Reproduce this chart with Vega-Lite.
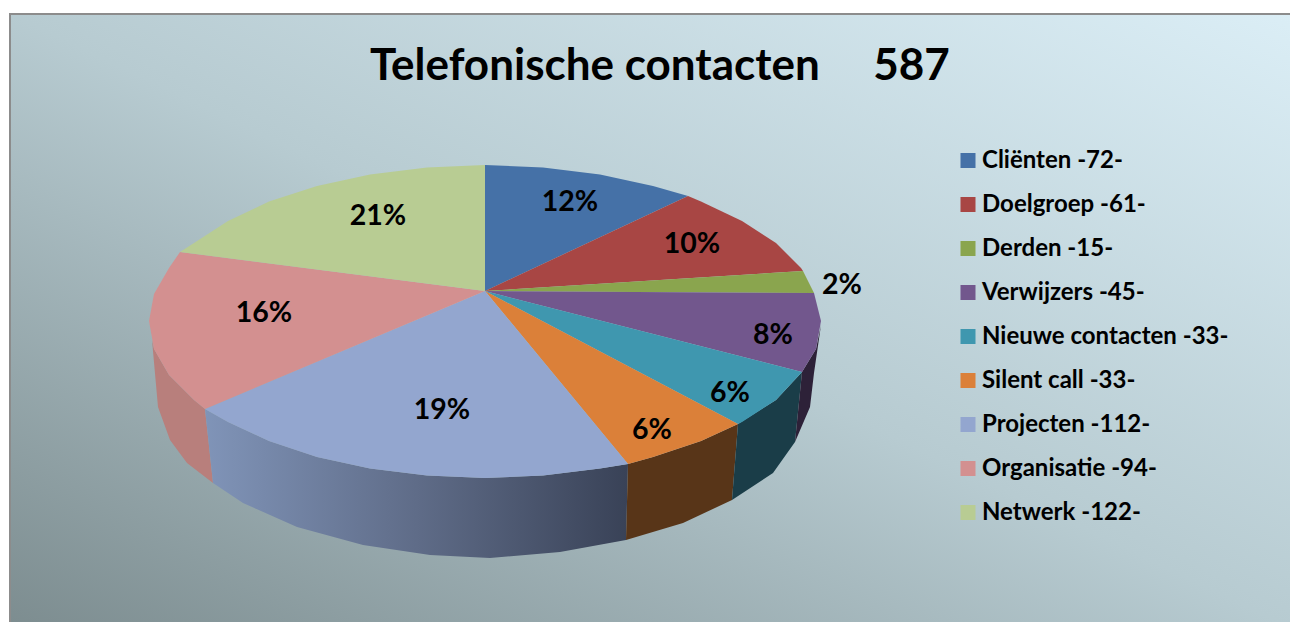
{"$schema":"https://vega.github.io/schema/vega-lite/v6.json","width":1290,"height":622,"padding":0,"autosize":{"type":"none"},"background":"white","view":{"stroke":null},
"title":{"text":"Telefonische contacten\u00a0\u00a0\u00a0\u00a0\u00a0587","font":"Lato","fontWeight":"bold","fontSize":44,"color":"#000000","anchor":"start","frame":"group","dx":370,"offset":-89},
"datasets":{
"achtergrond":[{"x":10,"x2":1300,"y":14,"y2":632}],
"wanden":[
{"s":"Organisatie","i":1,"x":152,"y":340},{"s":"Organisatie","i":2,"x":154,"y":349},{"s":"Organisatie","i":3,"x":169,"y":375},{"s":"Organisatie","i":4,"x":194,"y":400},{"s":"Organisatie","i":5,"x":205,"y":409},{"s":"Organisatie","i":6,"x":213,"y":483},{"s":"Organisatie","i":7,"x":187,"y":463},{"s":"Organisatie","i":8,"x":170,"y":440},{"s":"Organisatie","i":9,"x":158,"y":407},
{"s":"Projecten","i":1,"x":205,"y":409},{"s":"Projecten","i":2,"x":228,"y":422},{"s":"Projecten","i":3,"x":269,"y":441},{"s":"Projecten","i":4,"x":317,"y":457},{"s":"Projecten","i":5,"x":370,"y":468.6},{"s":"Projecten","i":6,"x":427,"y":475.6},{"s":"Projecten","i":7,"x":485,"y":478},{"s":"Projecten","i":8,"x":543,"y":475.6},{"s":"Projecten","i":9,"x":600,"y":468.6},{"s":"Projecten","i":10,"x":628,"y":464},{"s":"Projecten","i":11,"x":626,"y":540},{"s":"Projecten","i":12,"x":560,"y":552},{"s":"Projecten","i":13,"x":490,"y":558},{"s":"Projecten","i":14,"x":430,"y":555},{"s":"Projecten","i":15,"x":363,"y":545},{"s":"Projecten","i":16,"x":297,"y":527},{"s":"Projecten","i":17,"x":243,"y":503},{"s":"Projecten","i":18,"x":213,"y":483},
{"s":"Silent call","i":1,"x":628,"y":464},{"s":"Silent call","i":2,"x":653,"y":457},{"s":"Silent call","i":3,"x":701,"y":441},{"s":"Silent call","i":4,"x":738,"y":424},{"s":"Silent call","i":5,"x":732,"y":500},{"s":"Silent call","i":6,"x":683,"y":523},{"s":"Silent call","i":7,"x":626,"y":540},
{"s":"Nieuwe contacten","i":1,"x":738,"y":424},{"s":"Nieuwe contacten","i":2,"x":776,"y":400},{"s":"Nieuwe contacten","i":3,"x":802,"y":372},{"s":"Nieuwe contacten","i":4,"x":795,"y":442},{"s":"Nieuwe contacten","i":5,"x":773,"y":473},{"s":"Nieuwe contacten","i":6,"x":732,"y":500},
{"s":"Verwijzers","i":1,"x":802,"y":372},{"s":"Verwijzers","i":2,"x":816,"y":349},{"s":"Verwijzers","i":3,"x":821,"y":325},{"s":"Verwijzers","i":4,"x":814,"y":373},{"s":"Verwijzers","i":5,"x":810,"y":407},{"s":"Verwijzers","i":6,"x":795,"y":442}
],
"taart":[
{"categorie":"Cliënten -72-","i":0,"x":485,"y":291},{"categorie":"Cliënten -72-","i":1,"x":485,"y":165},{"categorie":"Cliënten -72-","i":2,"x":543,"y":167.4},{"categorie":"Cliënten -72-","i":3,"x":600,"y":174.4},{"categorie":"Cliënten -72-","i":4,"x":653,"y":186},{"categorie":"Cliënten -72-","i":5,"x":688,"y":196},
{"categorie":"Doelgroep -61-","i":0,"x":485,"y":291},{"categorie":"Doelgroep -61-","i":1,"x":688,"y":196},{"categorie":"Doelgroep -61-","i":2,"x":701,"y":201.6},{"categorie":"Doelgroep -61-","i":3,"x":742,"y":221},{"categorie":"Doelgroep -61-","i":4,"x":776,"y":243},{"categorie":"Doelgroep -61-","i":5,"x":801,"y":268},{"categorie":"Doelgroep -61-","i":6,"x":803,"y":271},
{"categorie":"Derden -15-","i":0,"x":485,"y":291},{"categorie":"Derden -15-","i":1,"x":803,"y":271},{"categorie":"Derden -15-","i":2,"x":814,"y":293},
{"categorie":"Verwijzers -45-","i":0,"x":485,"y":291},{"categorie":"Verwijzers -45-","i":1,"x":814,"y":293},{"categorie":"Verwijzers -45-","i":2,"x":821,"y":321},{"categorie":"Verwijzers -45-","i":3,"x":816,"y":349},{"categorie":"Verwijzers -45-","i":4,"x":802,"y":372},
{"categorie":"Nieuwe contacten -33-","i":0,"x":485,"y":291},{"categorie":"Nieuwe contacten -33-","i":1,"x":802,"y":372},{"categorie":"Nieuwe contacten -33-","i":2,"x":776,"y":400},{"categorie":"Nieuwe contacten -33-","i":3,"x":742,"y":422},{"categorie":"Nieuwe contacten -33-","i":4,"x":738,"y":424},
{"categorie":"Silent call -33-","i":0,"x":485,"y":291},{"categorie":"Silent call -33-","i":1,"x":738,"y":424},{"categorie":"Silent call -33-","i":2,"x":701,"y":441},{"categorie":"Silent call -33-","i":3,"x":653,"y":457},{"categorie":"Silent call -33-","i":4,"x":628,"y":464},
{"categorie":"Projecten -112-","i":0,"x":485,"y":291},{"categorie":"Projecten -112-","i":1,"x":628,"y":464},{"categorie":"Projecten -112-","i":2,"x":600,"y":468.6},{"categorie":"Projecten -112-","i":3,"x":543,"y":475.6},{"categorie":"Projecten -112-","i":4,"x":485,"y":478},{"categorie":"Projecten -112-","i":5,"x":427,"y":475.6},{"categorie":"Projecten -112-","i":6,"x":370,"y":468.6},{"categorie":"Projecten -112-","i":7,"x":317,"y":457},{"categorie":"Projecten -112-","i":8,"x":269,"y":441},{"categorie":"Projecten -112-","i":9,"x":228,"y":422},{"categorie":"Projecten -112-","i":10,"x":205,"y":409},
{"categorie":"Organisatie -94-","i":0,"x":485,"y":291},{"categorie":"Organisatie -94-","i":1,"x":205,"y":409},{"categorie":"Organisatie -94-","i":2,"x":194,"y":400},{"categorie":"Organisatie -94-","i":3,"x":169,"y":375},{"categorie":"Organisatie -94-","i":4,"x":154,"y":349},{"categorie":"Organisatie -94-","i":5,"x":149,"y":321},{"categorie":"Organisatie -94-","i":6,"x":154,"y":294},{"categorie":"Organisatie -94-","i":7,"x":169,"y":268},{"categorie":"Organisatie -94-","i":8,"x":180,"y":252},
{"categorie":"Netwerk -122-","i":0,"x":485,"y":291},{"categorie":"Netwerk -122-","i":1,"x":180,"y":252},{"categorie":"Netwerk -122-","i":2,"x":194,"y":243},{"categorie":"Netwerk -122-","i":3,"x":228,"y":221},{"categorie":"Netwerk -122-","i":4,"x":269,"y":201.6},{"categorie":"Netwerk -122-","i":5,"x":317,"y":186},{"categorie":"Netwerk -122-","i":6,"x":370,"y":174.4},{"categorie":"Netwerk -122-","i":7,"x":427,"y":167.4},{"categorie":"Netwerk -122-","i":8,"x":485,"y":165}
],
"labels":[
{"t":"12%","x":570,"y":202},{"t":"10%","x":692,"y":244},{"t":"2%","x":842,"y":285},{"t":"8%","x":773,"y":335},{"t":"6%","x":730,"y":393},{"t":"6%","x":652,"y":430},{"t":"19%","x":442,"y":410},{"t":"16%","x":264,"y":313},{"t":"21%","x":378,"y":216}
]},
"resolve":{"legend":{"color":"independent"}},
"layer":[
{"data":{"name":"achtergrond"},"mark":{"type":"rect","stroke":"#8c8c8c","strokeWidth":2,"fill":{"gradient":"linear","x1":0,"y1":1,"x2":1,"y2":0,"stops":[{"offset":0,"color":"#7c8c8f"},{"offset":0.5,"color":"#b7cbd1"},{"offset":1,"color":"#dbeef6"}]}},
 "encoding":{"x":{"field":"x","type":"quantitative","scale":{"domain":[0,1290],"nice":false,"zero":false},"axis":null},"x2":{"field":"x2"},"y":{"field":"y","type":"quantitative","scale":{"domain":[622,0],"nice":false,"zero":false},"axis":null},"y2":{"field":"y2"}}},
{"data":{"name":"wanden"},"transform":[{"filter":"datum.s==='Organisatie'"}],"mark":{"type":"line","filled":true,"fill":"#b87f7c","strokeWidth":0,"interpolate":"linear"},"encoding":{"x":{"field":"x","type":"quantitative","axis":null},"y":{"field":"y","type":"quantitative","axis":null},"order":{"field":"i","type":"quantitative"}}},
{"data":{"name":"wanden"},"transform":[{"filter":"datum.s==='Projecten'"}],"mark":{"type":"line","filled":true,"strokeWidth":0,"fill":{"gradient":"linear","x1":0,"y1":0,"x2":1,"y2":0,"stops":[{"offset":0,"color":"#8094b8"},{"offset":0.5,"color":"#5f6c88"},{"offset":1,"color":"#394257"}]}},"encoding":{"x":{"field":"x","type":"quantitative","axis":null},"y":{"field":"y","type":"quantitative","axis":null},"order":{"field":"i","type":"quantitative"}}},
{"data":{"name":"wanden"},"transform":[{"filter":"datum.s==='Silent call'"}],"mark":{"type":"line","filled":true,"fill":"#583518","strokeWidth":0},"encoding":{"x":{"field":"x","type":"quantitative","axis":null},"y":{"field":"y","type":"quantitative","axis":null},"order":{"field":"i","type":"quantitative"}}},
{"data":{"name":"wanden"},"transform":[{"filter":"datum.s==='Nieuwe contacten'"}],"mark":{"type":"line","filled":true,"fill":"#1a3d48","strokeWidth":0},"encoding":{"x":{"field":"x","type":"quantitative","axis":null},"y":{"field":"y","type":"quantitative","axis":null},"order":{"field":"i","type":"quantitative"}}},
{"data":{"name":"wanden"},"transform":[{"filter":"datum.s==='Verwijzers'"}],"mark":{"type":"line","filled":true,"fill":"#2d2138","strokeWidth":0},"encoding":{"x":{"field":"x","type":"quantitative","axis":null},"y":{"field":"y","type":"quantitative","axis":null},"order":{"field":"i","type":"quantitative"}}},
{"data":{"name":"taart"},"mark":{"type":"line","filled":true,"strokeWidth":0},
 "encoding":{"x":{"field":"x","type":"quantitative","axis":null},"y":{"field":"y","type":"quantitative","axis":null},"order":{"field":"i","type":"quantitative"},
 "color":{"field":"categorie","type":"nominal","sort":null,
  "scale":{"domain":["Cliënten -72-","Doelgroep -61-","Derden -15-","Verwijzers -45-","Nieuwe contacten -33-","Silent call -33-","Projecten -112-","Organisatie -94-","Netwerk -122-"],"range":["#4571a7","#a84644","#8aa54e","#72578d","#3f97af","#db8039","#93a6cf","#d39090","#b8cc93"]},
  "legend":{"title":null,"orient":"none","legendX":956,"legendY":150,"symbolType":"square","symbolSize":225,"symbolStrokeWidth":0,"symbolOpacity":1,"labelFont":"Lato","labelFontWeight":"bold","labelFontSize":24,"labelColor":"#000000","labelOffset":2,"labelLimit":320,"rowPadding":19,"clipHeight":21}}}},
{"data":{"name":"labels"},"mark":{"type":"text","font":"Lato","fontWeight":"bold","fontSize":28.5,"color":"#000000","align":"center","baseline":"middle"},
 "encoding":{"x":{"field":"x","type":"quantitative","axis":null},"y":{"field":"y","type":"quantitative","axis":null},"text":{"field":"t","type":"nominal"}}}
]}
